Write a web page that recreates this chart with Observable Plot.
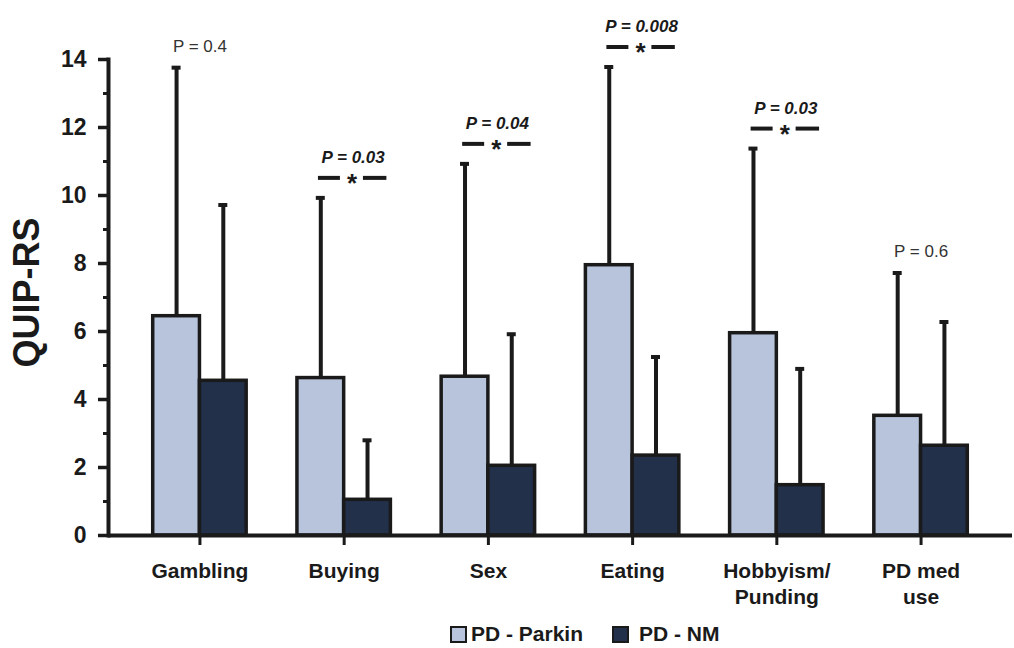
<!DOCTYPE html>
<html><head><meta charset="utf-8">
<script src="https://cdn.jsdelivr.net/npm/d3@7"></script>
<script src="https://cdn.jsdelivr.net/npm/@observablehq/plot@0.6"></script>
<style>
body{margin:0;background:#fff;font-family:"Liberation Sans",Arial,sans-serif;}
#chart svg{display:block;}
#legend{position:relative;height:36px;font-weight:bold;font-size:21px;color:#1a1a1a;}
#legend .item{position:absolute;top:10px;display:flex;align-items:center;}
#legend .sw{width:13px;height:13px;border:2px solid #1a1a1a;margin-right:4px;}
</style></head><body>
<div id="chart"></div>
<div id="legend"></div>
<script>
const categories = ["Gambling","Buying","Sex","Eating","Hobbyism/Punding","PD med use"];
const tickLabels = ["Gambling","Buying","Sex","Eating","Hobbyism/\nPunding","PD med\nuse"];
const series = ["PD - Parkin","PD - NM"];
const parkinMean = [6.45, 4.63, 4.67, 7.95, 5.95, 3.52];
const parkinSD   = [7.31, 5.30, 6.26, 5.83, 5.43, 4.20];
const nmMean     = [4.55, 1.05, 2.05, 2.35, 1.48, 2.64];
const nmSD       = [5.17, 1.75, 3.87, 2.90, 3.42, 3.64];
const pLabels    = ["P = 0.4","P = 0.03","P = 0.04","P = 0.008","P = 0.03","P = 0.6"];
const significant = [false, true, true, true, true, false];
const yTicks = [0,2,4,6,8,10,12,14];
const yMinorTicks = [1,3,5,7,9,11,13];

const colors = ["#b8c4dc", "#22304a"];
const ink = "#1a1a1a";

// layout
const W = 1014, H = 612, ML = 108, MR = 2, MT = 59, MB = 77;
const padIn = 0.352, padOut = 0.31;
const band = (W - ML - MR) / (categories.length - padIn + 2 * padOut) * (1 - padIn);
const half = band / 2;

const parkinRows = categories.map((c,i)=>({category:c, series:series[0], mean:parkinMean[i], top:parkinMean[i]+parkinSD[i]}));
const nmRows = categories.map((c,i)=>({category:c, series:series[1], mean:nmMean[i], top:nmMean[i]+nmSD[i]}));
const ann = categories.map((c,i)=>({category:c, label:pLabels[i], sig:significant[i], top:parkinMean[i]+parkinSD[i]}));
const sigAnn = ann.filter(d=>d.sig);
const nsAnn = ann.filter(d=>!d.sig);
const capW = 9;

const chart = Plot.plot({
  width: W, height: H,
  marginLeft: ML, marginRight: MR, marginTop: MT, marginBottom: MB,
  style: {fontFamily: '"Liberation Sans", Arial, sans-serif', color: ink, background: "#fff"},
  x: {domain: categories, paddingInner: padIn, paddingOuter: padOut, round: false, axis: null},
  y: {domain: [0, 14], label: null, axis: null},
  color: {domain: series, range: colors},
  marks: [
    Plot.barY(parkinRows, {x: "category", y: "mean", fill: "series", stroke: ink, strokeWidth: 3.5, insetRight: half}),
    Plot.barY(nmRows, {x: "category", y: "mean", fill: "series", stroke: ink, strokeWidth: 3.5, insetLeft: half}),
    Plot.ruleX(parkinRows, {x: "category", y1: "mean", y2: "top", dx: -half / 2, stroke: ink, strokeWidth: 4}),
    Plot.ruleX(nmRows, {x: "category", y1: "mean", y2: "top", dx: half / 2, stroke: ink, strokeWidth: 4}),
    Plot.tickY(parkinRows, {x: "category", y: "top", stroke: ink, strokeWidth: 4, insetLeft: half / 2 - capW / 2, insetRight: half + half / 2 - capW / 2}),
    Plot.tickY(nmRows, {x: "category", y: "top", stroke: ink, strokeWidth: 4, insetLeft: half + half / 2 - capW / 2, insetRight: half / 2 - capW / 2}),
    // significance annotations
    Plot.text(nsAnn, {x: "category", y: "top", text: "label", dy: -21, fontSize: 17, fill: "#333"}),
    Plot.text(sigAnn, {x: "category", y: "top", text: "label", dx: 9, dy: -40, fontSize: 17, fontWeight: "bold", fontStyle: "italic", fill: ink}),
    Plot.tickY(sigAnn, {x: "category", y: "top", dy: -20, insetLeft: 21, insetRight: band - 43, stroke: ink, strokeWidth: 4}),
    Plot.tickY(sigAnn, {x: "category", y: "top", dy: -20, insetLeft: 66, insetRight: 4, stroke: ink, strokeWidth: 4}),
    Plot.text(sigAnn, {x: "category", y: "top", text: () => "*", dx: 8, dy: -14, fontSize: 26, fontWeight: "bold", fill: ink}),
    // axes
    Plot.ruleY([0], {stroke: ink, strokeWidth: 4}),
    Plot.frame({anchor: "left", stroke: ink, strokeWidth: 4}),
    Plot.axisY({ticks: yTicks, tickSize: 10, tickPadding: 12, stroke: ink, strokeWidth: 3.5, fontSize: 23, fontWeight: "bold", label: null}),
    Plot.axisY({ticks: yMinorTicks, tickSize: 5, stroke: ink, strokeWidth: 3, tickFormat: () => "", label: null}),
    Plot.axisX({anchor: "bottom", tickSize: 10, tickPadding: 14, stroke: ink, strokeWidth: 3, fontSize: 21, fontWeight: "bold", lineHeight: 1.24, label: null,
      tickFormat: d => tickLabels[categories.indexOf(d)]}),
    Plot.text(["QUIP-RS"], {frameAnchor: "left", textAnchor: "middle", rotate: -90, dx: -81, dy: -5, fontSize: 36, fontWeight: "bold", fill: ink})
  ]
});
document.getElementById("chart").appendChild(chart);

const legend = document.getElementById("legend");
const legendLeft = [450, 612];
series.forEach((s,i)=>{
  const item = document.createElement("div");
  item.className = "item";
  item.style.left = legendLeft[i] + "px";
  const sw = document.createElement("span");
  sw.className = "sw";
  sw.style.background = colors[i];
  if (i === 1) sw.style.marginRight = "10px";
  const t = document.createElement("span");
  t.textContent = s;
  item.appendChild(sw); item.appendChild(t);
  legend.appendChild(item);
});
</script>
</body></html>
